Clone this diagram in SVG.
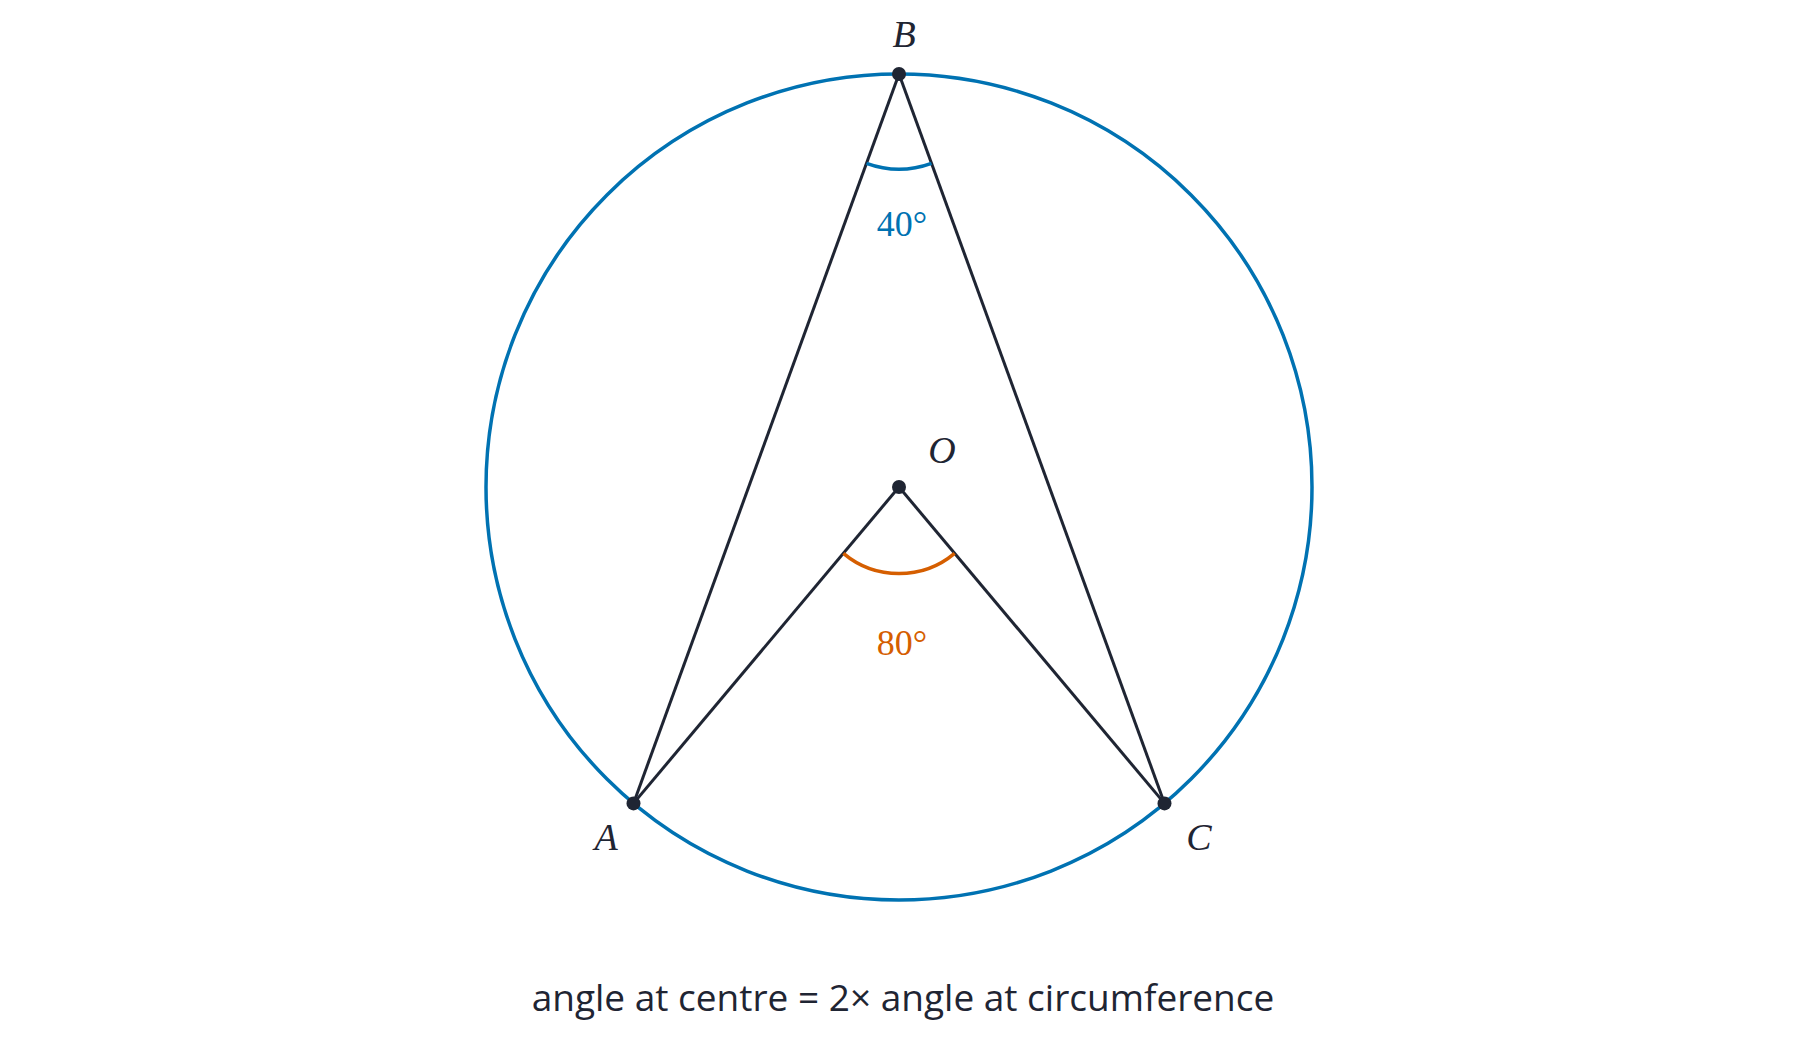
<svg xmlns="http://www.w3.org/2000/svg" width="1800" height="1038" viewBox="0 0 1800 1038">
<style>
.ln{stroke:#1f2533;stroke-width:3;fill:none}
.pt{fill:#1f2533}
.lab{font-family:"Liberation Serif",serif;font-style:italic;font-size:38px;fill:#1f2533;text-anchor:middle}
.num{font-family:"Liberation Serif",serif;font-size:36px;text-anchor:middle}
</style>
<rect width="1800" height="1038" fill="#fff"/>
<g id="circle"><circle cx="899" cy="487" r="413" fill="none" stroke="#0072b2" stroke-width="3.5"/></g>
<g id="connectors">
<line class="ln" x1="899" y1="74" x2="633.5" y2="803.4"/>
<line class="ln" x1="899" y1="74" x2="1164.5" y2="803.4"/>
<line class="ln" x1="899" y1="487" x2="633.5" y2="803.4"/>
<line class="ln" x1="899" y1="487" x2="1164.5" y2="803.4"/>
<path d="M866.5 163.3 A95 95 0 0 0 931.5 163.3" fill="none" stroke="#0072b2" stroke-width="3.5"/>
<path d="M843.4 553.3 A86.5 86.5 0 0 0 954.6 553.3" fill="none" stroke="#d55e00" stroke-width="3.5"/>
</g>
<g id="B"><circle class="pt" cx="899" cy="74" r="7"/><text class="lab" x="904" y="47">B</text></g>
<g id="O"><circle class="pt" cx="899" cy="487" r="7"/><text class="lab" x="942" y="463">O</text></g>
<g id="A"><circle class="pt" cx="633.5" cy="803.4" r="7"/><text class="lab" x="606" y="850">A</text></g>
<g id="C"><circle class="pt" cx="1164.5" cy="803.4" r="7"/><text class="lab" x="1199" y="850">C</text></g>
<g id="angle40"><text class="num" x="902" y="236" fill="#0072b2">40°</text></g>
<g id="angle80"><text class="num" x="902" y="655" fill="#d55e00">80°</text></g>
<g id="caption"><text x="903" y="1011" font-family="'Open Sans',sans-serif" font-size="37" fill="#1f2533" text-anchor="middle">angle at centre = 2× angle at circumference</text></g>
</svg>
